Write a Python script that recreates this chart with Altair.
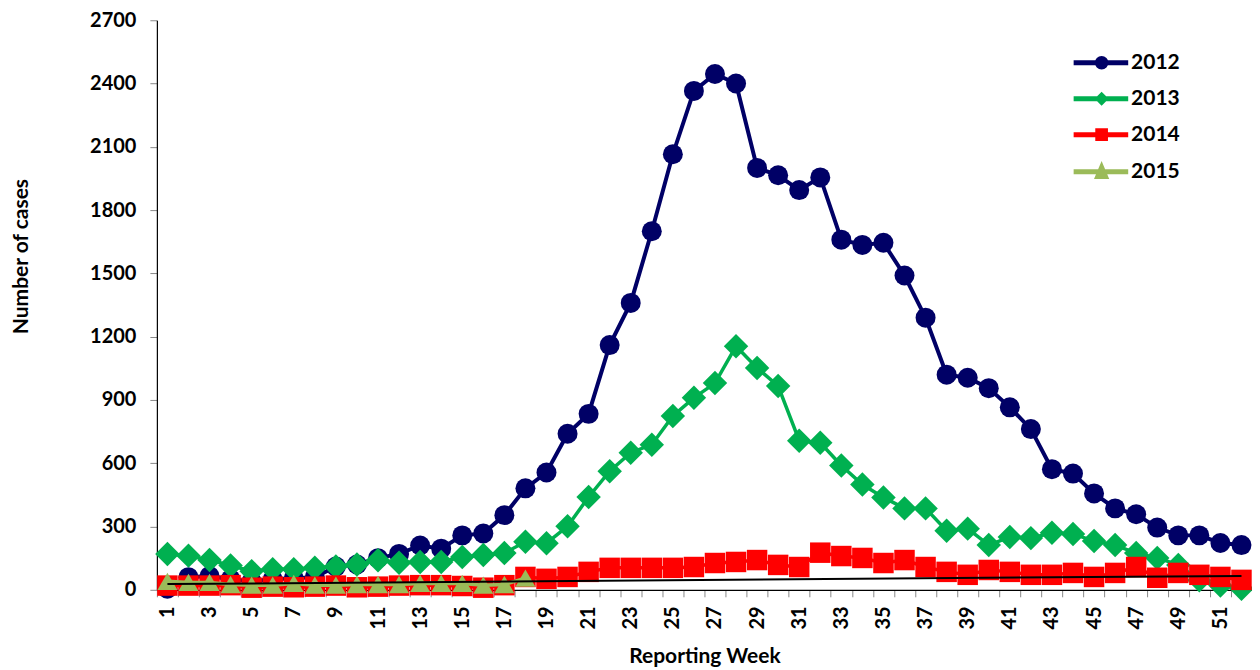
import altair as alt
import pandas as pd

weeks = list(range(1, 53))
years = ["2012", "2013", "2014", "2015"]
colors = ["#000066", "#00B050", "#FF0000", "#9BBB59"]

cases_2012 = [5, 60, 65, 50, 40, 50, 55, 60, 110, 120, 150, 170, 210, 195, 258, 267, 354, 481,
              556, 740, 834, 1160, 1360, 1700, 2065, 2365, 2445, 2400, 2000, 1965, 1895, 1955,
              1660, 1635, 1645, 1490, 1290, 1020, 1005, 956, 865, 762, 572, 551, 457, 386, 358,
              295, 258, 258, 222, 212]
cases_2013 = [170, 162, 141, 115, 88, 98, 98, 105, 110, 120, 140, 128, 132, 132, 155, 165, 174,
              228, 221, 301, 440, 562, 650, 688, 824, 910, 980, 1155, 1052, 966, 707, 697, 589,
              499, 438, 386, 386, 280, 290, 212, 250, 245, 270, 265, 231, 212, 174, 151, 118, 45,
              20, 5]
cases_2014 = [20, 20, 20, 22, 10, 15, 12, 15, 20, 12, 15, 20, 22, 22, 18, 10, 22, 61, 52, 61,
              85, 104, 104, 104, 104, 108, 127, 132, 141, 118, 108, 176, 160, 151, 127, 141, 108,
              85, 71, 94, 85, 71, 71, 80, 61, 80, 108, 57, 80, 71, 61, 47]
cases_2015 = [40, 35, 35, 25, 22, 22, 30, 22, 22, 25, 25, 25, 30, 30, 30, 22, 25, 55]
series = [cases_2012, cases_2013, cases_2014, cases_2015]

trend_weeks = [1, 52]
trend_values = [27, 66]

shapes = ["circle", "diamond", "square", "triangle-up"]
sizes = [400, 600, 420, 400]
line_widths = [4, 3.5, 3.5, 3.5]

legend_paths = [
    "M-4,0L3.8,0M-0.62,0A0.62,0.62,0,1,1,0.62,0A0.62,0.62,0,1,1,-0.62,0Z",
    "M-4,0L3.8,0M-0.5,0L0,-0.5L0.5,0L0,0.5Z",
    "M-4,0L3.8,0M-0.55,-0.55L0.55,-0.55L0.55,0.55L-0.55,0.55Z",
    "M-4,0L3.8,0M-0.55,0.7L0,-0.6L0.55,0.7Z",
]

rows = []
for yr, vals in zip(years, series):
    for w, v in zip(weeks, vals):
        rows.append({"week": w, "year": yr, "cases": v})
df = pd.DataFrame(rows)
trend_df = pd.DataFrame({"week": trend_weeks, "cases": trend_values})

FONT = "Lato"

x_enc = alt.X(
    "week:O",
    scale=alt.Scale(type="band", domain=weeks, paddingInner=0, paddingOuter=0),
    axis=alt.Axis(
        title="Reporting Week",
        labelAngle=270,
        labelExpr="datum.value % 2 == 1 ? datum.label : ''",
        tickBand="extent",
        tickSize=7,
        labelPadding=9,
        titleY=67,
        titleBaseline="middle",
    ),
)
y_enc = alt.Y(
    "cases:Q",
    scale=alt.Scale(domain=[0, 2700], nice=False),
    axis=alt.Axis(
        title="Number of cases",
        values=list(range(0, 2701, 300)),
        format="d",
        tickSize=7,
        labelPadding=14,
        titleX=-135,
        titleY=236,
        titleBaseline="middle",
    ),
)

layers = []
for i, yr in enumerate(years):
    base = alt.Chart(df).transform_filter(alt.datum.year == yr)
    layers.append(
        base.mark_line(color=colors[i], strokeWidth=line_widths[i]).encode(x=x_enc, y=y_enc)
    )
    layers.append(
        base.mark_point(
            shape=shapes[i], filled=True, size=sizes[i], color=colors[i], opacity=1
        ).encode(x=x_enc, y=y_enc)
    )

trend = alt.Chart(trend_df).mark_line(color="black", strokeWidth=2).encode(x=x_enc, y=y_enc)
layers.append(trend)

legend = alt.Chart(df).transform_filter("false").mark_point(
    filled=True, opacity=1, strokeWidth=5
).encode(
    x=x_enc,
    y=y_enc,
    fill=alt.Fill(
        "year:N",
        scale=alt.Scale(domain=years, range=colors),
        legend=alt.Legend(title=None),
    ),
    stroke=alt.Stroke(
        "year:N",
        scale=alt.Scale(domain=years, range=colors),
        legend=alt.Legend(title=None),
    ),
    shape=alt.Shape(
        "year:N",
        scale=alt.Scale(domain=years, range=legend_paths),
        legend=alt.Legend(title=None),
    ),
)
layers.append(legend)

chart = (
    alt.layer(*layers)
    .properties(
        width=1096,
        height=570,
        autosize=alt.AutoSizeParams(type="none"),
        padding={"left": 149, "top": 12, "right": 0, "bottom": 82},
    )
    .configure_view(stroke=None)
    .configure_axis(
        grid=False,
        domainColor="black",
        domainWidth=1.2,
        tickColor="#888888",
        tickWidth=1,
        labelFont=FONT,
        labelFontSize=20,
        labelFontWeight="bold",
        labelColor="black",
        titleFont=FONT,
        titleFontSize=21,
        titleFontWeight="bold",
        titleColor="black",
    )
    .configure_legend(
        orient="none",
        legendX=935,
        legendY=32,
        padding=0,
        labelFont=FONT,
        labelFontSize=21,
        labelFontWeight="bold",
        labelColor="black",
        labelOffset=19,
        rowPadding=8,
        symbolSize=196,
        symbolStrokeWidth=5,
    )
)

chart.save("out.html", embed_options={"renderer": "svg", "actions": False})
